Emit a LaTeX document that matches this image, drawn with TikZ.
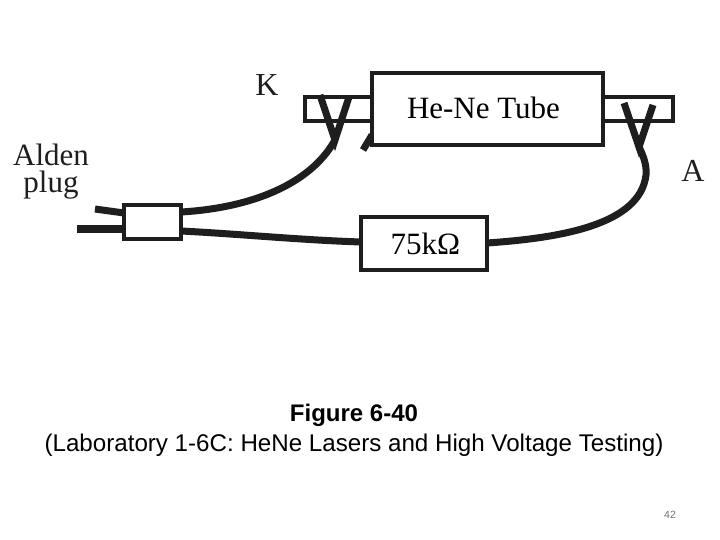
\documentclass[tikz,border=0pt]{standalone}
\usepackage{fontspec}
\setmainfont{Liberation Serif}
\newfontfamily\capfont{Liberation Sans}
\tikzset{
  box/.style={draw=inkc,fill=white,line width=3.2pt,inner sep=0pt,outer sep=0pt,font=\fontsize{31}{32}\selectfont},
  wire/.style={draw=inkc,line width=7pt},
  lab/.style={text=inkc,inner sep=0pt,align=center,font=\fontsize{32}{32}\selectfont},
  captext/.style={text=black,inner sep=0pt,font=\capfont\fontsize{24}{24}\selectfont}
}
\definecolor{inkc}{HTML}{1E1E1E}
\begin{document}
\begin{tikzpicture}[x=1pt,y=-1pt]
\useasboundingbox (0,0) rectangle (720,540);
\fill[white] (0,0) rectangle (720,540);
% side tabs and tube
\node[box,minimum width=68pt,minimum height=24pt] (tabL) at (339,109) {};
\node[box,minimum width=70pt,minimum height=24pt] (tabR) at (638,109) {};
\coordinate (stubA) at (363,150);
\coordinate (stubB) at (372,135);
\draw[wire] (stubA) -- (stubB);
\node[box,minimum width=231pt,minimum height=72pt] (tube) at (487.5,109) {\hspace{-8pt}\raisebox{2pt}{He-Ne Tube}};
% labels
\node[lab] (k) at (267,85) {K};
\node[lab] (a) at (693,171) {A};
\node[lab,font=\fontsize{31}{27}\selectfont] (alden) at (51,171.5) {Alden\\plug};
% boxes
\node[box,minimum width=57pt,minimum height=34pt] (plug) at (152.5,222) {};
\node[box,minimum width=126pt,minimum height=53pt] (res) at (424,243.5) {\hspace{3pt}75kΩ};
% free ends
\coordinate (kJ) at (335,140);
\coordinate (kL) at (320,95);
\coordinate (kR) at (349,97);
\coordinate (aJ) at (639,147);
\coordinate (aL) at (624,103);
\coordinate (aR) at (653,105);
\coordinate (p1) at (95,209);
\coordinate (p2) at (77,229);
% connectors
\draw[wire] (p1) -- (plug.west |- 0,213);
\draw[wire] (p2) -- (plug.west |- 0,229);
\draw[wire] (plug.east |- 0,212) .. controls (250,208) and (310,185) .. (kJ);
\draw[wire] (kL) -- (kJ) -- (kR);
\draw[wire] (plug.east |- 0,231) .. controls (240,234) and (300,240) .. (res.west |- 0,242);
\draw[wire] (res.east |- 0,243) .. controls (560,238) and (640,225) .. (646,175) .. controls (647,165) and (643,155) .. (aJ);
\draw[wire] (aL) -- (aJ) -- (aR);
% caption
\node[captext,font=\capfont\bfseries\fontsize{24}{24}\selectfont] (t1) at (354,415) {Figure 6-40};
\node[captext,font=\capfont\fontsize{24.15}{24}\selectfont] (t2) at (354,445) {(Laboratory 1-6C: HeNe Lasers and High Voltage Testing)};
\node[inner sep=0pt,text=black!55,font=\capfont\fontsize{10.5}{10}\selectfont] (num) at (670,514.5) {42};
\end{tikzpicture}
\end{document}
